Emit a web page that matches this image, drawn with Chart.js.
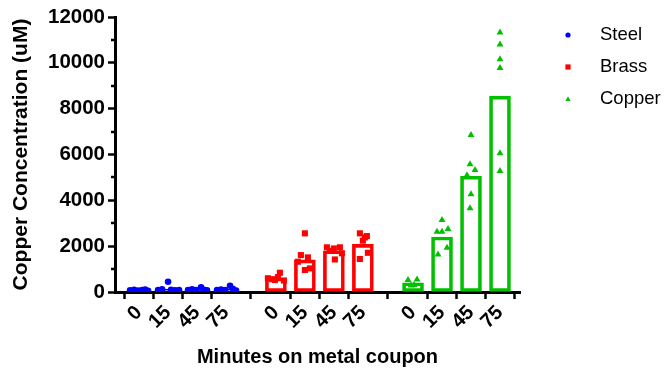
<!DOCTYPE html>
<html>
<head>
<meta charset="utf-8">
<script src="https://cdn.jsdelivr.net/npm/chart.js@4.4.0/dist/chart.umd.min.js"></script>
<style>
  html, body { margin: 0; padding: 0; background: #fff; }
</style>
</head>
<body>
<canvas id="chart" width="666" height="369"></canvas>
<script>
const minutes = ['0', '15', '45', '75'];
const materials = ['Steel', 'Brass', 'Copper'];

// bar heights (uM), one per time point
const steelMeans = [70, 130, 110, 120];
const brassMeans = [610, 1400, 1800, 2080];
const copperMeans = [405, 2400, 5050, 8550];

// replicates per time point (uM)
const steelPoints = [
    [70, 100, 60, 90, 110, 50],
    [450, 120, 80, 100, 70, 90],
    [80, 120, 90, 200, 100, 70],
    [90, 110, 80, 270, 130, 60]
];
const brassPoints = [
    [840, 600, 520, 560, 650, 500],
    [2560, 1610, 1510, 1320, 960, 1030],
    [1950, 1900, 1950, 1800, 1690, 1420],
    [2560, 2440, 2240, 1710, 1440, 2380]
];
const copperPoints = [
    [520, 550, 280, 310],
    [3140, 2630, 2630, 2750, 1640, 1930],
    [6850, 5570, 5320, 5100, 4270, 3650],
    [11320, 10800, 10160, 9780, 6050, 5280]
];

// --- layout / style below ---
const colors = ['#0000ff', '#ff0000', '#00c000'];
const shapes = ['circle', 'rect', 'triangle'];
const radii = [3.3, 4.3, 4];
const groupStart = [0, 4.72, 9.45];   // slot where each material's first bar sits
const SLOT_PX = 29;

// sideways scatter of the replicates, px
const steelSpread = [[-9, -5, -1, 3, 6, 9], [0, -6, -10, 3, 7, 11], [-9, -5, -1, 4, 7, 10], [-9, -5, -1, 4, 7, 10]];
const brassSpread = [[4, -8, -1, -4, 2, 8], [0, -4, 3, -7, 0, 5], [-7, 0, 6, -4, 8, 1], [-3, 4, 0, 5, -3, 2]];
const copperSpread = [[-5, 4, -2, 1], [0, -5, 0, 6, -4, 5], [0, -1, 4, -4, 0, -1], [0, 0, 0, 0, 0, 0]];

const means = [steelMeans, brassMeans, copperMeans];
const points = [steelPoints, brassPoints, copperPoints];
const spreads = [steelSpread, brassSpread, copperSpread];

const tickPositions = [];
groupStart.forEach(s => minutes.forEach((m, i) => tickPositions.push(s + i)));

Chart.defaults.font.family = '"Liberation Sans", Arial, sans-serif';
Chart.defaults.color = '#000';

const datasets = [];
materials.forEach((name, g) => {
    datasets.push({
        type: 'scatter',
        label: name,
        order: 1,
        data: points[g].flatMap((vals, i) => vals.map((v, k) => ({
            x: groupStart[g] + i + spreads[g][i][k] / SLOT_PX,
            y: v
        }))),
        pointStyle: shapes[g],
        pointRadius: radii[g],
        pointBackgroundColor: colors[g],
        pointBorderWidth: 0
    });
});
materials.forEach((name, g) => {
    datasets.push({
        type: 'bar',
        label: name + ' mean',
        order: 2,
        grouped: false,
        data: means[g].map((v, i) => ({ x: groupStart[g] + i, y: v })),
        backgroundColor: 'rgba(0,0,0,0)',
        borderColor: colors[g],
        borderWidth: 3,
        borderSkipped: false,
        barThickness: 21
    });
});

function drawMarker(ctx, shape, x, y, r) {
    ctx.beginPath();
    if (shape === 'circle') {
        ctx.arc(x, y, r, 0, Math.PI * 2);
    } else if (shape === 'rect') {
        ctx.rect(x - r, y - r, 2 * r, 2 * r);
    } else {
        ctx.moveTo(x, y - r * 1.1);
        ctx.lineTo(x + r, y + r * 0.8);
        ctx.lineTo(x - r, y + r * 0.8);
        ctx.closePath();
    }
    ctx.fill();
}

// minor y ticks + legend
const extras = {
    id: 'extras',
    afterDraw(chart) {
        const ctx = chart.ctx;
        const yScale = chart.scales.y;
        const left = chart.chartArea.left;
        ctx.save();
        ctx.strokeStyle = '#000';
        ctx.lineWidth = 2.5;
        for (let v = 1000; v < 12000; v += 2000) {
            const py = Math.round(yScale.getPixelForValue(v));
            ctx.beginPath();
            ctx.moveTo(left - 4, py);
            ctx.lineTo(left, py);
            ctx.stroke();
        }
        ctx.font = '18.5px "Liberation Sans", Arial, sans-serif';
        ctx.textBaseline = 'middle';
        materials.forEach((name, g) => {
            const cy = 35 + g * 32;
            ctx.fillStyle = colors[g];
            drawMarker(ctx, shapes[g], 568, cy, 2.6);
            ctx.fillStyle = '#000';
            ctx.fillText(name, 600, cy);
        });
        ctx.restore();
    }
};

new Chart(document.getElementById('chart'), {
    type: 'bar',
    data: { datasets },
    options: {
        responsive: false,
        animation: false,
        events: [],
        layout: { padding: { top: 17, right: 146, bottom: 0, left: 0 } },
        plugins: { legend: { display: false }, tooltip: { enabled: false } },
        scales: {
            x: {
                type: 'linear',
                min: -0.83,
                max: 13.14,
                offset: false,
                afterBuildTicks: s => { s.ticks = tickPositions.map(v => ({ value: v })); },
                afterFit: s => { s.height = 77; },
                ticks: {
                    autoSkip: false,
                    minRotation: 45,
                    maxRotation: 45,
                    padding: 2,
                    font: { size: 20, weight: 'bold' },
                    callback: (v, i) => minutes[i % minutes.length]
                },
                grid: { drawOnChartArea: false, tickLength: 7, tickWidth: 2.5, tickColor: '#000' },
                border: { color: '#000', width: 3 },
                title: {
                    display: true,
                    text: 'Minutes on metal coupon',
                    font: { size: 20, weight: 'bold' },
                    padding: 0
                }
            },
            y: {
                min: 0,
                max: 12000,
                afterFit: s => { s.width = 115; },
                ticks: {
                    stepSize: 2000,
                    padding: 3,
                    font: { size: 20.5, weight: 'bold' },
                    callback: v => String(v)
                },
                grid: { drawOnChartArea: false, tickLength: 7, tickWidth: 2.5, tickColor: '#000' },
                border: { color: '#000', width: 3 },
                title: {
                    display: true,
                    text: 'Copper Concentration (uM)',
                    font: { size: 21, weight: 'bold' },
                    padding: { top: 9, bottom: 0 }
                }
            }
        }
    },
    plugins: [extras]
});
</script>
</body>
</html>
